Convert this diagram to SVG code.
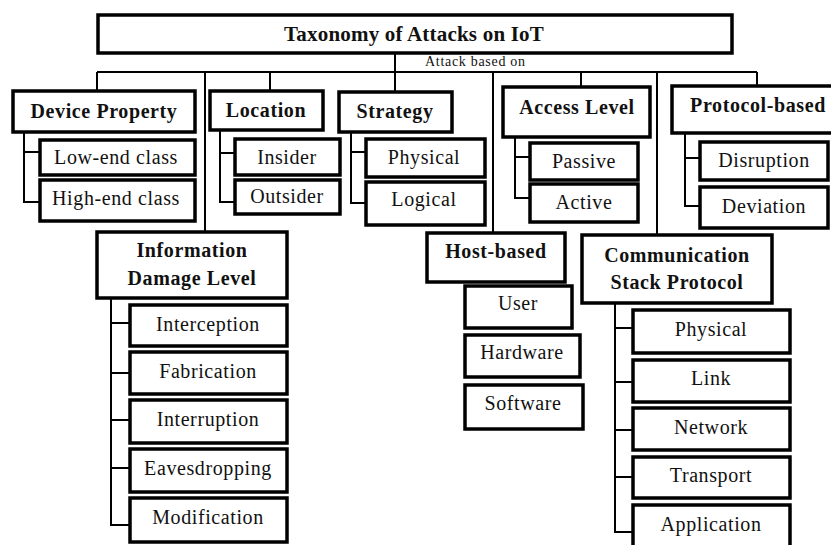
<svg xmlns="http://www.w3.org/2000/svg" width="831" height="545" viewBox="0 0 831 545">
<style>
.box{fill:#fff;stroke:#000;stroke-width:3.5}
.ln{fill:none;stroke:#000;stroke-width:2}
.t{font-size:21px;font-weight:bold;letter-spacing:0.2px}
.h{font-size:20px;font-weight:bold;letter-spacing:0.6px}
.c{font-size:20px;letter-spacing:0.6px}
.s{font-size:14px;letter-spacing:0.7px}
</style>
<rect width="831" height="545" fill="#fff"/>
<g id="connectors">
<path class="ln" d="M395,53V72M97,72H757M97,72V91M205,72V232M270,72V91M395,72V92M493,72V233M581,72V87M657,72V235M757,72V86"/>
<path class="ln" d="M24,132V202H40M24,152H40"/>
<path class="ln" d="M220,130V202H235M220,153H235"/>
<path class="ln" d="M351,132V203H366M351,152H366"/>
<path class="ln" d="M515,137V198H530M515,157H530"/>
<path class="ln" d="M685,133V206H700M685,158H700"/>
<path class="ln" d="M111,298V525H130M111,323H130M111,373H130M111,420H130M111,468H130"/>
<path class="ln" d="M615,303V532H633M615,328H633M615,382H633M615,430H633M615,477H633"/>
</g>
<g font-family="Liberation Serif, Times New Roman, serif" fill="#111" text-anchor="middle">
<g id="title"><rect class="box" x="98" y="15" width="634" height="38"/><text class="t" x="414" y="41">Taxonomy of Attacks on IoT</text></g>
<text class="s" x="425" y="66" text-anchor="start">Attack based on</text>
<g id="device-property"><rect class="box" x="13" y="91" width="182" height="41"/><text class="h" x="104" y="118">Device Property</text></g>
<g id="low-end"><rect class="box" x="40" y="140" width="155" height="35"/><text class="c" x="116" y="164">Low-end class</text></g>
<g id="high-end"><rect class="box" x="40" y="180" width="155" height="41"/><text class="c" x="116" y="205">High-end class</text></g>
<g id="location"><rect class="box" x="210" y="91" width="113" height="39"/><text class="h" x="266" y="117">Location</text></g>
<g id="insider"><rect class="box" x="235" y="139" width="105" height="36"/><text class="c" x="287" y="164">Insider</text></g>
<g id="outsider"><rect class="box" x="235" y="180" width="105" height="34"/><text class="c" x="287" y="203">Outsider</text></g>
<g id="strategy"><rect class="box" x="339" y="92" width="113" height="40"/><text class="h" x="395" y="118">Strategy</text></g>
<g id="physical-s"><rect class="box" x="366" y="139" width="119" height="38"/><text class="c" x="424" y="164">Physical</text></g>
<g id="logical"><rect class="box" x="366" y="182" width="119" height="43"/><text class="c" x="424" y="206">Logical</text></g>
<g id="access-level"><rect class="box" x="503" y="87" width="147" height="50"/><text class="h" x="577" y="114">Access Level</text></g>
<g id="passive"><rect class="box" x="530" y="143" width="108" height="37"/><text class="c" x="584" y="168">Passive</text></g>
<g id="active"><rect class="box" x="530" y="184" width="108" height="38"/><text class="c" x="584" y="209">Active</text></g>
<g id="protocol-based"><rect class="box" x="672" y="86" width="165" height="47"/><text class="h" x="758" y="112">Protocol-based</text></g>
<g id="disruption"><rect class="box" x="700" y="142" width="128" height="38"/><text class="c" x="764" y="167">Disruption</text></g>
<g id="deviation"><rect class="box" x="700" y="187" width="128" height="41"/><text class="c" x="764" y="213">Deviation</text></g>
<g id="info-damage"><rect class="box" x="97" y="232" width="190" height="66"/><text class="h" x="192" y="257">Information</text><text class="h" x="192" y="285">Damage Level</text></g>
<g id="interception"><rect class="box" x="130" y="305" width="157" height="41"/><text class="c" x="208" y="331">Interception</text></g>
<g id="fabrication"><rect class="box" x="130" y="352" width="157" height="42"/><text class="c" x="208" y="378">Fabrication</text></g>
<g id="interruption"><rect class="box" x="130" y="400" width="157" height="43"/><text class="c" x="208" y="426">Interruption</text></g>
<g id="eavesdropping"><rect class="box" x="130" y="449" width="157" height="43"/><text class="c" x="208" y="475">Eavesdropping</text></g>
<g id="modification"><rect class="box" x="130" y="498" width="157" height="44"/><text class="c" x="208" y="524">Modification</text></g>
<g id="host-based"><rect class="box" x="427" y="233" width="138" height="49"/><text class="h" x="496" y="258">Host-based</text></g>
<g id="user"><rect class="box" x="465" y="286" width="107" height="42"/><text class="c" x="518" y="310">User</text></g>
<g id="hardware"><rect class="box" x="465" y="335" width="115" height="42"/><text class="c" x="522" y="359">Hardware</text></g>
<g id="software"><rect class="box" x="465" y="385" width="118" height="44"/><text class="c" x="523" y="410">Software</text></g>
<g id="comm-stack"><rect class="box" x="582" y="235" width="190" height="68"/><text class="h" x="677" y="262">Communication</text><text class="h" x="677" y="289">Stack Protocol</text></g>
<g id="physical-c"><rect class="box" x="633" y="310" width="157" height="43"/><text class="c" x="711" y="336">Physical</text></g>
<g id="link"><rect class="box" x="633" y="360" width="157" height="42"/><text class="c" x="711" y="385">Link</text></g>
<g id="network"><rect class="box" x="633" y="408" width="157" height="42"/><text class="c" x="711" y="434">Network</text></g>
<g id="transport"><rect class="box" x="633" y="457" width="157" height="41"/><text class="c" x="711" y="482">Transport</text></g>
<g id="application"><rect class="box" x="633" y="505" width="157" height="45"/><text class="c" x="711" y="531">Application</text></g>
</g>
</svg>
